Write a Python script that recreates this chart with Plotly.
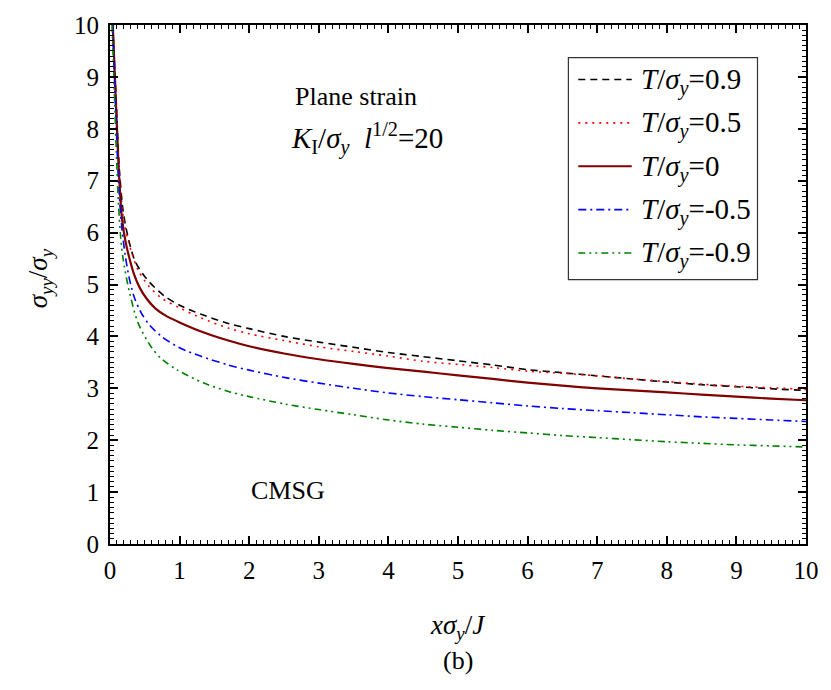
import plotly.graph_objects as go

# T/sigma_y = 0.9
x_p09 = [0.04, 0.07, 0.1, 0.13, 0.19, 0.27, 0.37, 0.55, 0.78, 1.0, 1.3, 1.7, 2, 2.5, 3, 3.5, 4, 4.5, 5, 5.5, 6, 6.5, 7, 7.5, 8, 8.5, 9, 9.5, 10]
y_p09 = [10, 9.1, 8.2, 7.3, 6.4, 5.85, 5.42, 5.07, 4.78, 4.6, 4.43, 4.25, 4.15, 4.0, 3.89, 3.79, 3.69, 3.61, 3.53, 3.45, 3.36, 3.3, 3.24, 3.18, 3.12, 3.07, 3.03, 2.99, 2.96]
# T/sigma_y = 0.5
x_p05 = [0.04, 0.07, 0.1, 0.13, 0.19, 0.27, 0.4, 0.55, 0.76, 1.0, 1.3, 1.7, 2, 2.5, 3, 3.5, 4, 4.5, 5, 5.5, 6, 6.5, 7, 7.5, 8, 8.5, 9, 9.5, 10]
y_p05 = [10, 9.1, 8.15, 7.25, 6.3, 5.8, 5.29, 4.98, 4.72, 4.55, 4.36, 4.16, 4.05, 3.92, 3.80, 3.71, 3.62, 3.52, 3.46, 3.40, 3.33, 3.29, 3.24, 3.18, 3.13, 3.08, 3.04, 3.01, 2.98]
# T/sigma_y = 0
x_0 = [0.04, 0.07, 0.1, 0.13, 0.17, 0.22, 0.28, 0.35, 0.43, 0.53, 0.65, 0.8, 1.0, 1.3, 1.7, 2, 2.5, 3, 3.5, 4, 4.5, 5, 5.5, 6, 6.5, 7, 7.5, 8, 8.5, 9, 9.5, 10]
y_0 = [10, 9, 8, 7.1, 6.3, 5.85, 5.5, 5.18, 4.93, 4.72, 4.54, 4.40, 4.27, 4.10, 3.92, 3.81, 3.67, 3.56, 3.47, 3.39, 3.32, 3.25, 3.18, 3.11, 3.05, 3.0, 2.96, 2.92, 2.88, 2.84, 2.80, 2.77]
# T/sigma_y = -0.5
x_m05 = [0.04, 0.07, 0.1, 0.13, 0.17, 0.22, 0.28, 0.35, 0.45, 0.58, 0.76, 1.0, 1.3, 1.7, 2, 2.5, 3, 3.5, 4, 4.5, 5, 5.5, 6, 6.5, 7, 7.5, 8, 8.5, 9, 9.5, 10]
y_m05 = [10, 8.8, 7.7, 6.8, 6.1, 5.55, 5.1, 4.75, 4.45, 4.2, 3.98, 3.78, 3.62, 3.45, 3.35, 3.21, 3.10, 3.0, 2.91, 2.84, 2.78, 2.72, 2.66, 2.61, 2.57, 2.53, 2.49, 2.45, 2.42, 2.39, 2.36]
# T/sigma_y = -0.9
x_m09 = [0.03, 0.06, 0.09, 0.12, 0.16, 0.19, 0.26, 0.40, 0.59, 0.73, 0.97, 1.35, 1.7, 2, 2.5, 3, 3.5, 4, 4.5, 5, 5.5, 6, 6.5, 7, 7.5, 8, 8.5, 9, 9.5, 10]
y_m09 = [10, 8.8, 7.6, 6.6, 5.8, 5.48, 4.97, 4.27, 3.80, 3.58, 3.35, 3.10, 2.94, 2.84, 2.70, 2.59, 2.49, 2.39, 2.31, 2.25, 2.19, 2.14, 2.09, 2.05, 2.01, 1.97, 1.94, 1.91, 1.89, 1.87]

legend_labels = ["=0.9", "=0.5", "=0", "=-0.5", "=-0.9"]

series = [
    (x_p09, y_p09, "black", "7px,5px", 1.6),
    (x_p05, y_p05, "#ff0000", "2px,5px", 1.6),
    (x_0, y_0, "#800000", "solid", 2.2),
    (x_m05, y_m05, "#0000ff", "8px,4px,2px,4px", 1.6),
    (x_m09, y_m09, "#008000", "7px,4px,2px,4px,2px,4px", 1.6),
]

FONT = "Times New Roman, Liberation Serif, serif"
FS = 25
W0, H0 = 703, 524          # plot area size in px
L0, B0 = 110, 544          # plot area left / bottom in px


def px_x(p):
    return (p - L0) / W0


def px_y(p):
    return (B0 - p) / H0


fig = go.Figure()
for i, (xs, ys, col, dash, w) in enumerate(series):
    fig.add_trace(go.Scatter(x=xs, y=ys, mode="lines",
                             name="<i>T</i>/<i>σ</i><sub><i>y</i></sub>" + legend_labels[i],
                             showlegend=False,
                             line=dict(color=col, dash=dash, width=w, shape="spline", smoothing=0.8)))

axis_common = dict(showline=True, linecolor="black", linewidth=2, mirror="allticks",
                   ticks="inside", ticklen=8, tickwidth=1.5, tickcolor="black",
                   showgrid=False, zeroline=False,
                   tickfont=dict(family=FONT, size=FS, color="black"),
                   minor=dict(ticks="inside", ticklen=4, tickwidth=1, tickcolor="black", dtick=0.1))

fig.update_xaxes(range=[0, 10], dtick=1, tick0=0, ticklabelstandoff=3, **axis_common)
fig.update_yaxes(range=[0, 10], dtick=1, tick0=0, ticklabelstandoff=4, **axis_common)

fig.update_layout(
    width=831, height=690,
    margin=dict(l=110, r=18, t=20, b=146),
    plot_bgcolor="white", paper_bgcolor="white",
    font=dict(family=FONT, size=FS, color="black"),
    showlegend=False,
)

# legend box (manual, to match the long line samples of the original)
fig.add_shape(type="rect", xref="paper", yref="paper",
              x0=px_x(573), x1=px_x(764), y0=px_y(277), y1=px_y(53),
              line=dict(color="#333333", width=1.2), fillcolor="white", layer="above")
for i, (xs, ys, col, dash, w) in enumerate(series):
    yy = 75 + i * 43.8
    fig.add_shape(type="line", xref="paper", yref="paper",
                  x0=px_x(583), x1=px_x(637), y0=px_y(yy), y1=px_y(yy),
                  line=dict(color=col, dash=dash, width=w), layer="above")
    fig.add_annotation(text="<i>T</i>/<i>σ</i><sub><i>y</i></sub>" + legend_labels[i],
                       x=px_x(644), y=px_y(yy + 2), xref="paper", yref="paper",
                       xanchor="left", yanchor="middle", showarrow=False,
                       font=dict(family=FONT, size=29, color="black"))

annots = [
    dict(text="Plane strain", x=358, y=92),
    dict(text="<i>K</i><sub>I</sub>/<i>σ</i><sub><i>y</i></sub>&nbsp; <i>l</i><sup>1/2</sup>=20", x=370, y=135, size=29),
    dict(text="CMSG", x=290, y=490),
    dict(text="<i>xσ</i><sub><i>y</i></sub>/<i>J</i>", x=462, y=628, size=27),
    dict(text="(b)", x=462, y=662),
]
for a in annots:
    fig.add_annotation(text=a["text"], x=px_x(a["x"]), y=px_y(a["y"]),
                       xref="paper", yref="paper",
                       xanchor="center", yanchor="middle", showarrow=False,
                       font=dict(family=FONT, size=a.get("size", 26), color="black"))

fig.add_annotation(text="<i>σ</i><sub><i>yy</i></sub>/<i>σ</i><sub><i>y</i></sub>",
                   x=px_x(39), y=px_y(276), xref="paper", yref="paper",
                   textangle=-90, showarrow=False, xanchor="center", yanchor="middle",
                   font=dict(family=FONT, size=27, color="black"))

fig.write_html("out.html")
